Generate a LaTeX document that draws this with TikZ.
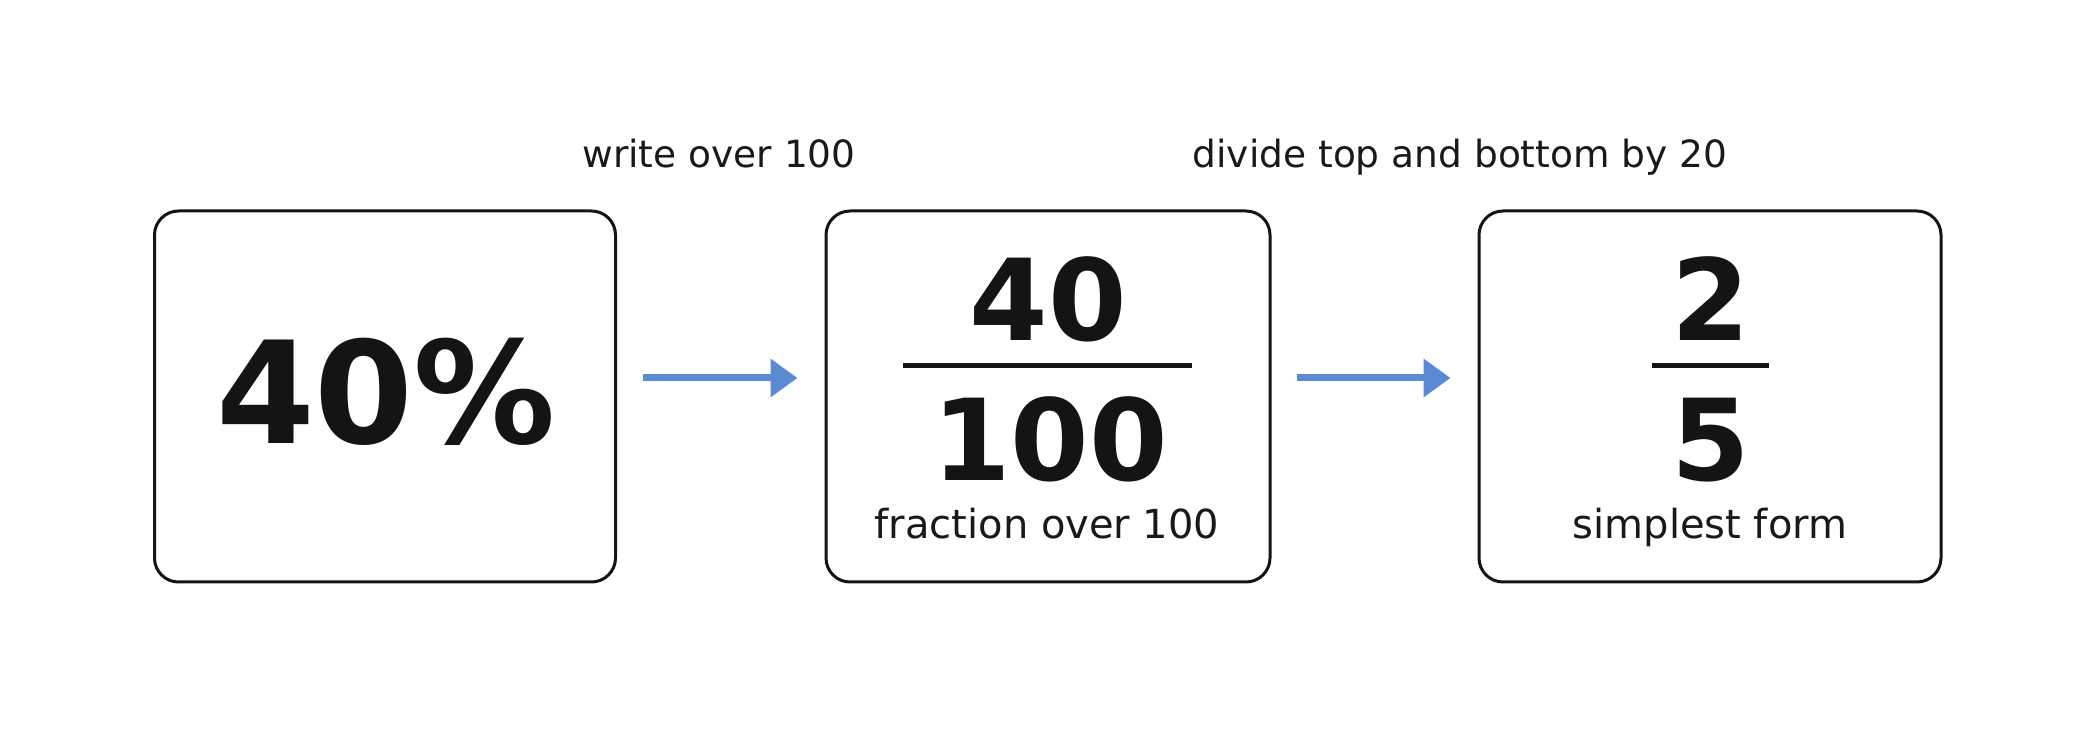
\documentclass[tikz,border=0pt]{standalone}
\usepackage{fontspec}
\setmainfont{DejaVu Sans}
\usetikzlibrary{arrows.meta,calc}
\definecolor{arrowblue}{RGB}{90,138,212}
\definecolor{boxline}{RGB}{20,20,20}
\begin{document}
\begin{tikzpicture}[x=1pt,y=1pt,
  card/.style={draw=boxline,line width=3pt,rounded corners=24pt,fill=white,minimum height=371pt,inner sep=0pt},
  big/.style={inner sep=0pt,anchor=base,font=\fontsize{142}{160}\selectfont\bfseries,text=black!92},
  num/.style={inner sep=0pt,anchor=base,font=\fontsize{113}{130}\selectfont\bfseries,text=black!92},
  captext/.style={inner sep=0pt,anchor=base,font=\fontsize{40}{48}\selectfont,text=black!90},
  toplabel/.style={inner sep=0pt,anchor=base,font=\fontsize{37.5}{45}\selectfont,text=black!90},
  flow/.style={draw=arrowblue,line width=7pt,-{Triangle[length=27pt,width=37pt]}},
  bar/.style={draw=black!92,line width=5pt}]
\useasboundingbox[fill=white] (0,0) rectangle (2089,753);
\node[card,minimum width=461pt] (b1) at (385,356.5) {};
\node[card,minimum width=444pt] (b2) at (1048,356.5) {};
\node[card,minimum width=462pt] (b3) at (1710,356.5) {};
% box 1
\node[big] (pct) at (386,309) {40\%};
% box 2
\node[num] (n1) at (1048,412) {40};
\coordinate (l1a) at (903,387);
\coordinate (l1b) at (1192,387);
\draw[bar] (l1a) -- (l1b);
\node[num] (d1) at (1050,272) {100};
\node[captext] (c1) at (1047,214) {fraction over 100};
% box 3
\node[num] (n2) at (1711,412) {2};
\coordinate (l2a) at (1652,387);
\coordinate (l2b) at (1769,387);
\draw[bar] (l2a) -- (l2b);
\node[num] (d2) at (1711,272) {5};
\node[captext] (c2) at (1710,214) {simplest form};
% labels
\node[toplabel] (t1) at (719,585) {write over 100};
\node[toplabel] (t2) at (1460,585) {divide top and bottom by 20};
% arrows
\draw[flow] ($(b1.east)+(26,18.5)$) -- ($(b2.west)+(-27,18.5)$);
\draw[flow] ($(b2.east)+(25,18.5)$) -- ($(b3.west)+(-27,18.5)$);
\end{tikzpicture}
\end{document}
